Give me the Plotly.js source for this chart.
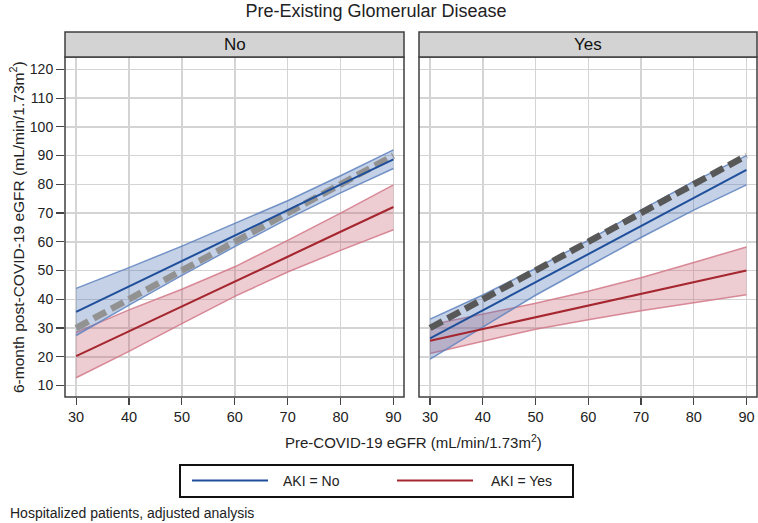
<!DOCTYPE html>
<html><head><meta charset="utf-8">
<script src="https://cdn.plot.ly/plotly-3.0.1.min.js"></script>
<style>html,body{margin:0;padding:0;background:#fff}#chart{width:758px;height:523px}</style>
</head><body><div id="chart"></div>
<script>
// Pre-COVID eGFR grid
const egfr = [30, 40, 50, 60, 70, 80, 90];
const refX = [30, 90];
const refY = [30, 90];
// Panel "No" (no pre-existing glomerular disease)
const noAkiNo_mean  = [35.6, 44.5, 53.3, 62.2, 71.0, 79.9, 88.7];
const noAkiNo_lo    = [27.4, 38.0, 48.3, 58.3, 68.0, 77.0, 85.5];
const noAkiNo_hi    = [43.8, 51.0, 58.5, 66.3, 74.3, 83.0, 92.0];
const noAkiYes_mean = [20.2, 28.8, 37.5, 46.1, 54.8, 63.5, 72.1];
const noAkiYes_lo   = [12.7, 21.9, 31.5, 41.0, 49.5, 57.0, 64.2];
const noAkiYes_hi   = [28.5, 36.3, 43.5, 51.3, 60.5, 70.0, 79.8];
// Panel "Yes"
const yesAkiNo_mean  = [26.4, 36.2, 45.9, 55.7, 65.5, 75.2, 85.0];
const yesAkiNo_lo    = [19.2, 30.3, 41.4, 51.5, 61.5, 71.0, 79.8];
const yesAkiNo_hi    = [33.1, 41.5, 50.7, 60.5, 71.0, 81.0, 90.0];
const yesAkiYes_mean = [25.6, 29.7, 33.7, 37.8, 41.9, 45.9, 50.0];
const yesAkiYes_lo   = [21.1, 25.3, 29.6, 32.9, 36.0, 38.8, 41.6];
const yesAkiYes_hi   = [31.1, 34.8, 38.6, 42.8, 47.5, 52.8, 58.2];
const panels = ['No', 'Yes'];
const legendLabels = ['AKI = No', 'AKI = Yes'];
const yTicks = [10, 20, 30, 40, 50, 60, 70, 80, 90, 100, 110, 120];
const xTicks = [30, 40, 50, 60, 70, 80, 90];

const BLUE = '#1f4f9b', RED = '#a5262e';
const BFILL = 'rgba(75,115,180,0.33)', BEDGE = 'rgba(95,130,190,0.85)';
const RFILL = 'rgba(195,85,105,0.30)', REDGE = 'rgba(210,120,135,0.85)';

function band(lo, hi, xa, ya, fill, edge) {
  return [
    {x: egfr, y: lo, xaxis: xa, yaxis: ya, mode: 'lines', line: {color: edge, width: 1.5}, hoverinfo: 'skip', showlegend: false},
    {x: egfr, y: hi, xaxis: xa, yaxis: ya, mode: 'lines', fill: 'tonexty', fillcolor: fill, line: {color: edge, width: 1.5}, hoverinfo: 'skip', showlegend: false}
  ];
}
function line(y, xa, ya, c, name) {
  return {x: egfr, y: y, xaxis: xa, yaxis: ya, mode: 'lines', line: {color: c, width: 2}, name: name, showlegend: false};
}
function ref(xa, ya, c) {
  return {x: refX, y: refY, xaxis: xa, yaxis: ya, mode: 'lines', line: {color: c, width: 6.5, dash: '14px,6px'}, hoverinfo: 'skip', showlegend: false};
}

const data = [].concat(
  band(noAkiYes_lo, noAkiYes_hi, 'x', 'y', RFILL, REDGE),
  band(noAkiNo_lo, noAkiNo_hi, 'x', 'y', BFILL, BEDGE),
  [ref('x', 'y', '#929292')],
  [line(noAkiYes_mean, 'x', 'y', RED, legendLabels[1]), line(noAkiNo_mean, 'x', 'y', BLUE, legendLabels[0])],
  band(yesAkiYes_lo, yesAkiYes_hi, 'x2', 'y2', RFILL, REDGE),
  band(yesAkiNo_lo, yesAkiNo_hi, 'x2', 'y2', BFILL, BEDGE),
  [ref('x2', 'y2', '#585858')],
  [line(yesAkiYes_mean, 'x2', 'y2', RED, legendLabels[1]), line(yesAkiNo_mean, 'x2', 'y2', BLUE, legendLabels[0])]
);

const FONT = 'Liberation Sans, Arial, sans-serif';
const L = 65, R = 1, T = 57, B = 126, W = 758, H = 523;
const pw = W - L - R, ph = H - T - B;
const d1 = [0, (404 - L) / pw], d2 = [(419 - L) / pw, 1];
const yr = [6.0, 124.3], xr = [27.9, 92.0];
const hdr = 25 / ph;
function px(x) { return (x - L) / pw; }
function py(y) { return (H - B - y) / ph; }

const xax = (dom, anchor) => ({domain: dom, anchor: anchor, range: xr, tickvals: xTicks, ticks: 'outside', ticklen: 7, tickwidth: 1.2, tickcolor: '#444',
  showgrid: true, gridcolor: '#d4d4d4', gridwidth: 1.5, zeroline: false, showline: false, tickfont: {size: 14.5, color: '#222', family: FONT}, fixedrange: true});
const yax = (dom, anchor, labels) => ({domain: [0, 1], anchor: anchor, range: yr, tickvals: yTicks, ticks: labels ? 'outside' : '', ticklen: 8, tickwidth: 1.2, tickcolor: '#444',
  showticklabels: labels, showgrid: true, gridcolor: '#d4d4d4', gridwidth: 1.5, zeroline: false, showline: false, tickfont: {size: 14, color: '#222', family: FONT}, fixedrange: true});

const shapes = [];
const annotations = [];
[d1, d2].forEach((d, i) => {
  shapes.push({type: 'rect', xref: 'paper', yref: 'paper', x0: d[0], x1: d[1], y0: 0, y1: 1, line: {color: '#3f3f3f', width: 1.5}, fillcolor: 'rgba(0,0,0,0)', layer: 'above'});
  shapes.push({type: 'rect', xref: 'paper', yref: 'paper', x0: d[0], x1: d[1], y0: 1, y1: 1 + hdr, line: {color: '#3f3f3f', width: 1.5}, fillcolor: '#d3d3d3', layer: 'above'});
  annotations.push({xref: 'paper', yref: 'paper', x: (d[0] + d[1]) / 2, y: 1 + hdr / 2, text: panels[i], showarrow: false, xanchor: 'center', yanchor: 'middle', font: {size: 17, color: '#111', family: FONT}});
});
// legend box
shapes.push({type: 'rect', xref: 'paper', yref: 'paper', x0: px(180), x1: px(573), y0: py(497), y1: py(465), line: {color: '#111', width: 2}, fillcolor: '#fff'});
shapes.push({type: 'line', xref: 'paper', yref: 'paper', x0: px(192), x1: px(268), y0: py(480.5), y1: py(480.5), line: {color: BLUE, width: 2}});
shapes.push({type: 'line', xref: 'paper', yref: 'paper', x0: px(397), x1: px(473), y0: py(480.5), y1: py(480.5), line: {color: RED, width: 2}});
annotations.push({xref: 'paper', yref: 'paper', x: px(281), y: py(481), text: legendLabels[0], showarrow: false, xanchor: 'left', yanchor: 'middle', font: {size: 14, color: '#222', family: FONT}});
annotations.push({xref: 'paper', yref: 'paper', x: px(489), y: py(481), text: legendLabels[1], showarrow: false, xanchor: 'left', yanchor: 'middle', font: {size: 14, color: '#222', family: FONT}});
// axis titles and footnote
annotations.push({xref: 'paper', yref: 'paper', x: px(413), y: py(441), text: 'Pre-COVID-19 eGFR (mL/min/1.73m<sup>2</sup>)', showarrow: false, xanchor: 'center', yanchor: 'middle', font: {size: 15, color: '#222', family: FONT}});
annotations.push({xref: 'paper', yref: 'paper', x: px(17), y: py(227), text: '6-month post-COVID-19 eGFR (mL/min/1.73m<sup>2</sup>)', textangle: -90, showarrow: false, xanchor: 'center', yanchor: 'middle', font: {size: 15.5, color: '#222', family: FONT}});
annotations.push({xref: 'paper', yref: 'paper', x: px(8), y: py(513), text: 'Hospitalized patients, adjusted analysis', showarrow: false, xanchor: 'left', yanchor: 'middle', font: {size: 14, color: '#222', family: FONT}});

const layout = {
  width: W, height: H, margin: {l: L, r: R, t: T, b: B}, paper_bgcolor: '#fff', plot_bgcolor: '#fff',
  title: {text: 'Pre-Existing Glomerular Disease', x: 376 / W, xref: 'container', xanchor: 'center', y: 1 - 11 / H, yref: 'container', yanchor: 'middle', font: {size: 18, color: '#222', family: FONT}},
  xaxis: xax(d1, 'y'), yaxis: yax(d1, 'x', true),
  xaxis2: xax(d2, 'y2'), yaxis2: yax(d2, 'x2', false),
  showlegend: false, shapes: shapes, annotations: annotations
};
Plotly.newPlot('chart', data, layout, {displayModeBar: false, staticPlot: true});
</script></body></html>
